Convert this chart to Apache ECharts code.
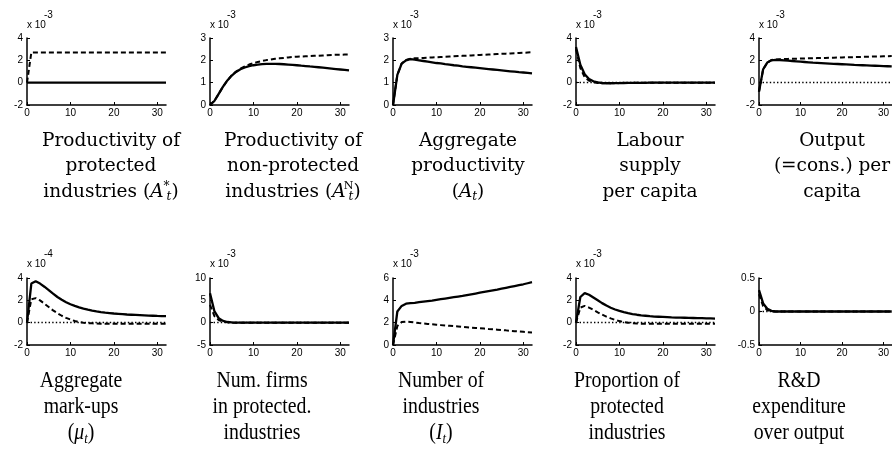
<!DOCTYPE html>
<html>
<head>
<meta charset="utf-8">
<script src="https://cdn.jsdelivr.net/npm/echarts@6/dist/echarts.min.js"></script>
<style>
html, body { margin: 0; padding: 0; background: #fff; }
#chart { width: 892px; height: 454px; }
</style>
</head>
<body>
<div id="chart"></div>
<script>
// periods of the impulse responses
const periods = [0,1,2,3,4,5,6,7,8,9,10,11,12,13,14,15,16,17,18,19,20,21,22,23,24,25,26,27,28,29,30,31,32];
const xTicks = [0, 10, 20, 30];

// 1. productivity of protected industries (x1e-3)
const protSolid  = [0,0,0,0,0,0,0,0,0,0,0,0,0,0,0,0,0,0,0,0,0,0,0,0,0,0,0,0,0,0,0,0,0];
const protDashed = [0,2.7,2.7,2.7,2.7,2.7,2.7,2.7,2.7,2.7,2.7,2.7,2.7,2.7,2.7,2.7,2.7,2.7,2.7,2.7,2.7,2.7,2.7,2.7,2.7,2.7,2.7,2.7,2.7,2.7,2.7,2.7,2.7];
// 2. productivity of non-protected industries (x1e-3)
const nonProtSolid  = [0,0.18,0.5,0.82,1.1,1.32,1.48,1.6,1.68,1.74,1.78,1.81,1.83,1.84,1.845,1.84,1.835,1.825,1.81,1.795,1.78,1.76,1.745,1.725,1.71,1.69,1.67,1.65,1.63,1.61,1.59,1.57,1.55];
const nonProtDashed = [0,0.18,0.5,0.82,1.1,1.33,1.5,1.63,1.73,1.81,1.87,1.93,1.97,2.01,2.04,2.07,2.09,2.11,2.13,2.15,2.16,2.17,2.18,2.19,2.2,2.21,2.22,2.23,2.24,2.25,2.25,2.26,2.26];
// 3. aggregate productivity (x1e-3)
const aggProdSolid  = [0,1.35,1.85,2.0,2.05,2.03,2.0,1.97,1.94,1.91,1.88,1.86,1.83,1.81,1.78,1.76,1.73,1.71,1.69,1.67,1.65,1.63,1.61,1.59,1.57,1.55,1.53,1.51,1.49,1.47,1.455,1.44,1.42];
const aggProdDashed = [0,1.35,1.86,2.02,2.07,2.09,2.1,2.11,2.12,2.13,2.14,2.15,2.16,2.17,2.18,2.19,2.2,2.21,2.22,2.23,2.24,2.25,2.26,2.27,2.28,2.29,2.3,2.31,2.32,2.33,2.34,2.35,2.36];
// 4. labour supply per capita (x1e-3)
const labourSolid  = [3.2,1.6,0.75,0.33,0.12,0.02,-0.03,-0.05,-0.05,-0.045,-0.04,-0.03,-0.025,-0.02,-0.015,-0.01,-0.01,-0.005,0,0,0,0,0,0,0,0,0,0,0,0,0,0,0];
const labourDashed = [3.0,1.3,0.5,0.18,0.04,-0.02,-0.05,-0.06,-0.055,-0.05,-0.04,-0.03,-0.025,-0.02,-0.015,-0.01,-0.01,-0.005,0,0,0,0,0,0,0,0,0,0,0,0,0,0,0];
// 5. output per capita (x1e-3)
const outputSolid  = [-0.8,1.2,1.8,2.0,2.05,2.03,2.0,1.97,1.94,1.91,1.88,1.85,1.82,1.79,1.77,1.75,1.73,1.71,1.69,1.67,1.65,1.63,1.61,1.59,1.575,1.56,1.545,1.53,1.515,1.5,1.485,1.47,1.455];
const outputDashed = [-0.8,1.2,1.8,2.02,2.08,2.1,2.12,2.13,2.14,2.15,2.16,2.17,2.18,2.19,2.2,2.21,2.22,2.23,2.24,2.25,2.26,2.27,2.28,2.29,2.3,2.31,2.32,2.33,2.34,2.35,2.36,2.37,2.38];
// 6. aggregate mark-ups (x1e-4)
const markupSolid  = [0,3.5,3.7,3.5,3.22,2.92,2.6,2.3,2.05,1.83,1.65,1.5,1.37,1.26,1.16,1.08,1.01,0.95,0.9,0.86,0.82,0.79,0.76,0.73,0.71,0.69,0.67,0.65,0.63,0.62,0.6,0.59,0.58];
const markupDashed = [0,2.1,2.2,2.0,1.7,1.4,1.1,0.85,0.62,0.43,0.28,0.15,0.06,0,-0.04,-0.06,-0.08,-0.09,-0.1,-0.1,-0.1,-0.1,-0.1,-0.1,-0.1,-0.1,-0.1,-0.1,-0.1,-0.1,-0.1,-0.1,-0.1];
// 7. number of firms in protected industries (x1e-3)
const firmsSolid  = [6.6,2.6,1.0,0.4,0.15,0.05,0.01,0,0,0,0,0,0,0,0,0,0,0,0,0,0,0,0,0,0,0,0,0,0,0,0,0,0];
const firmsDashed = [4.0,1.5,0.6,0.22,0.07,0.01,-0.02,-0.03,-0.03,-0.02,-0.02,-0.01,-0.01,0,0,0,0,0,0,0,0,0,0,0,0,0,0,0,0,0,0,0,0];
// 8. number of industries (x1e-3)
const industriesSolid  = [0,3.0,3.5,3.7,3.75,3.78,3.83,3.88,3.93,3.98,4.04,4.1,4.16,4.22,4.28,4.34,4.4,4.47,4.54,4.61,4.68,4.75,4.82,4.89,4.96,5.04,5.12,5.2,5.28,5.36,5.44,5.53,5.62];
const industriesDashed = [0,1.7,2.05,2.1,2.07,2.02,1.97,1.93,1.89,1.85,1.81,1.78,1.75,1.72,1.69,1.66,1.62,1.59,1.56,1.53,1.5,1.47,1.43,1.4,1.37,1.34,1.31,1.27,1.24,1.21,1.18,1.15,1.12];
// 9. proportion of protected industries (x1e-3)
const propSolid  = [0,2.3,2.65,2.5,2.25,2.0,1.75,1.53,1.34,1.18,1.05,0.94,0.85,0.77,0.71,0.66,0.62,0.58,0.55,0.53,0.51,0.49,0.47,0.46,0.45,0.44,0.43,0.42,0.41,0.4,0.39,0.38,0.37];
const propDashed = [0,1.35,1.5,1.35,1.15,0.93,0.72,0.54,0.38,0.25,0.14,0.06,0,-0.04,-0.07,-0.09,-0.1,-0.1,-0.1,-0.1,-0.1,-0.1,-0.1,-0.1,-0.1,-0.1,-0.1,-0.1,-0.1,-0.1,-0.1,-0.1,-0.1];
// 10. R&D expenditure over output
const rdSolid  = [0.32,0.12,0.04,0.01,0,0,0,0,0,0,0,0,0,0,0,0,0,0,0,0,0,0,0,0,0,0,0,0,0,0,0,0,0];
const rdDashed = [0.26,0.08,0.02,0,0,0,0,0,0,0,0,0,0,0,0,0,0,0,0,0,0,0,0,0,0,0,0,0,0,0,0,0,0];

// panel list: y range, exponent label, zero line, title lines
const panels = [
  { solid: protSolid, dashed: protDashed, min: -2, max: 4, step: 2, exp: '-3', zero: false,
    title: ['Productivity of', 'protected', 'industries ({i|A}{sup|*}{sub|t})'] },
  { solid: nonProtSolid, dashed: nonProtDashed, min: 0, max: 3, step: 1, exp: '-3', zero: false,
    title: ['Productivity of', 'non-protected', 'industries ({i|A}{supr|N}{sub|t})'] },
  { solid: aggProdSolid, dashed: aggProdDashed, min: 0, max: 3, step: 1, exp: '-3', zero: false,
    title: ['Aggregate', 'productivity', '({i|A}{sub|t})'] },
  { solid: labourSolid, dashed: labourDashed, min: -2, max: 4, step: 2, exp: '-3', zero: true,
    title: ['Labour', 'supply', 'per capita'] },
  { solid: outputSolid, dashed: outputDashed, min: -2, max: 4, step: 2, exp: '-3', zero: true,
    title: ['Output', '(=cons.) per', 'capita'] },
  { solid: markupSolid, dashed: markupDashed, min: -2, max: 4, step: 2, exp: '-4', zero: true,
    title: ['Aggregate', 'mark-ups', '({i|μ}{sub|t})'] },
  { solid: firmsSolid, dashed: firmsDashed, min: -5, max: 10, step: 5, exp: '-3', zero: true,
    title: ['Num. firms', 'in protected.', 'industries'] },
  { solid: industriesSolid, dashed: industriesDashed, min: 0, max: 6, step: 2, exp: '-3', zero: false,
    title: ['Number of', 'industries', '({i|I}{sub|t})'] },
  { solid: propSolid, dashed: propDashed, min: -2, max: 4, step: 2, exp: '-3', zero: true,
    title: ['Proportion of', 'protected', 'industries'] },
  { solid: rdSolid, dashed: rdDashed, min: -0.5, max: 0.5, step: 0.5, exp: null, zero: true,
    title: ['R&D', 'expenditure', 'over output'] }
];

// layout
const colLeft = [27, 210, 393, 576, 759];
const rowTop = [38, 278];
const plotW = 139, plotH = 67;
const titleX = [[111, 293, 468, 650, 832], [81, 262, 441, 627, 799]];
const titleY = [[141, 166, 192], [381, 407, 433]];
const titleFont = ['DejaVu Serif', 'Liberation Serif'];
const titleSize = [18.5, 23];
const titleScaleX = [1, 0.86];

function pairs(vals) {
  return vals.map(function (v, i) { return [periods[i], v]; });
}

const chart = echarts.init(document.getElementById('chart'), null, { renderer: 'canvas' });

const grid = [], xAxis = [], yAxis = [], series = [], graphic = [];
const tickFont = { fontFamily: 'Liberation Sans', fontSize: 10, color: '#000' };

panels.forEach(function (p, k) {
  const row = Math.floor(k / 5), col = k % 5;
  grid.push({ left: colLeft[col], top: rowTop[row], width: plotW, height: plotH, containLabel: false });
  xAxis.push({
    type: 'value', gridIndex: k, min: 0, max: 32,
    axisLine: { onZero: false, lineStyle: { color: '#000', width: 1.5 } },
    axisTick: { inside: true, length: 3, customValues: xTicks, lineStyle: { color: '#000' } },
    axisLabel: Object.assign({ margin: 3, customValues: xTicks }, tickFont),
    splitLine: { show: false }
  });
  yAxis.push({
    type: 'value', gridIndex: k, min: p.min, max: p.max, interval: p.step,
    axisLine: { show: true, lineStyle: { color: '#000', width: 1.5 } },
    axisTick: { show: true, inside: true, length: 3, lineStyle: { color: '#000' } },
    axisLabel: Object.assign({ margin: 4 }, tickFont),
    splitLine: { show: false }
  });
  const dashedSeries = {
    type: 'line', xAxisIndex: k, yAxisIndex: k, data: pairs(p.dashed),
    showSymbol: false, silent: true, animation: false,
    lineStyle: { color: '#000', width: 2, type: [5, 3] }, z: 3
  };
  if (p.zero) {
    dashedSeries.markLine = {
      silent: true, symbol: 'none', animation: false, label: { show: false },
      lineStyle: { color: '#000', width: 1.4, type: [1.4, 2.2] },
      data: [{ yAxis: 0 }]
    };
  }
  series.push(dashedSeries);
  series.push({
    type: 'line', xAxisIndex: k, yAxisIndex: k, data: pairs(p.solid),
    showSymbol: false, silent: true, animation: false,
    lineStyle: { color: '#000', width: 2.3 }, z: 4
  });

  if (p.exp) {
    const ey = row === 0 ? 26 : 265;
    graphic.push({
      type: 'text', left: colLeft[col], top: ey - 6,
      style: { text: 'x 10', fontFamily: 'Liberation Sans', fontSize: 10, fill: '#000' }
    });
    graphic.push({
      type: 'text', left: colLeft[col] + 17, top: ey - 16,
      style: { text: p.exp, fontFamily: 'Liberation Sans', fontSize: 10, fill: '#000' }
    });
  }

  const ff = titleFont[row], fs = titleSize[row];
  p.title.forEach(function (line, li) {
    graphic.push({
      type: 'text', x: titleX[row][col], y: titleY[row][li],
      scaleX: titleScaleX[row],
      style: {
        text: line, fontFamily: ff, fontSize: fs, fill: '#000',
        textAlign: 'center', textVerticalAlign: 'middle', lineHeight: fs + 4,
        rich: {
          i: { fontFamily: ff, fontSize: fs, fontStyle: 'italic', lineHeight: fs + 4 },
          sub: { fontFamily: ff, fontSize: fs * 0.65, fontStyle: 'italic', verticalAlign: 'bottom' },
          sup: { fontFamily: ff, fontSize: fs * 0.65, verticalAlign: 'top', width: 0.1, padding: [0, 0, 0, 3] },
          supr: { fontFamily: ff, fontSize: fs * 0.6, verticalAlign: 'top', width: 0.1, padding: [0, 0, 0, 3] }
        }
      }
    });
  });
});

chart.setOption({
  animation: false,
  backgroundColor: '#fff',
  grid: grid,
  xAxis: xAxis,
  yAxis: yAxis,
  series: series,
  graphic: graphic
});
</script>
</body>
</html>
